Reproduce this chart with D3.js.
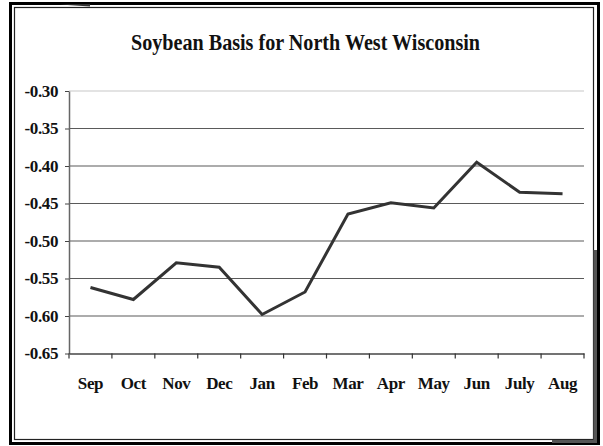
<!DOCTYPE html>
<html>
<head>
<meta charset="utf-8">
<script src="https://cdn.jsdelivr.net/npm/d3@7"></script>
<style>
  html, body { margin: 0; padding: 0; background: #fff; }
  svg { display: block; }
  .axis text { font-family: "Liberation Serif", "Times New Roman", serif; font-weight: bold; font-size: 17px; letter-spacing: -0.4px; fill: #111; }
</style>
</head>
<body>
<svg id="chart" width="603" height="446"></svg>
<script>
// ─── Data ────────────────────────────────────────────────────────────────
const months = ['Sep','Oct','Nov','Dec','Jan','Feb','Mar','Apr','May','Jun','July','Aug'];
const basis  = [-0.562,-0.578,-0.529,-0.535,-0.598,-0.568,-0.464,-0.449,-0.456,-0.395,-0.435,-0.437];
const yTicks = [-0.30,-0.35,-0.40,-0.45,-0.50,-0.55,-0.60,-0.65];
const title  = 'Soybean Basis for North West Wisconsin';

const svg = d3.select('#chart');
const W = 603, H = 446;
const margin = { top: 91, right: 19, bottom: 92.5, left: 69 };

svg.append('rect').attr('width', W).attr('height', H).attr('fill', '#fff');

// ── Frame (double border with a bit of shadow) ──────────────
svg.append('rect').attr('x', 10.5).attr('y', 3.5).attr('width', 588).attr('height', 440)
  .attr('fill', 'none').attr('stroke', '#000').attr('stroke-width', 3);
svg.append('rect').attr('x', 14.5).attr('y', 7.5).attr('width', 579).attr('height', 432)
  .attr('fill', 'none').attr('stroke', '#222').attr('stroke-width', 1.2);
svg.append('rect').attr('x', 593.5).attr('y', 250).attr('width', 3.5).attr('height', 193).attr('fill', '#555');
svg.append('rect').attr('x', 552).attr('y', 440).attr('width', 45).attr('height', 3).attr('fill', '#555');
svg.append('path').attr('d', 'M60,4.5 L90,6.5 L90,4 Z').attr('fill', '#333');

// ── Title ──────────────────────────────────────────────
svg.append('text')
  .attr('x', 131).attr('y', 50)
  .attr('textLength', 349).attr('lengthAdjust', 'spacingAndGlyphs')
  .style('font-family', '"Liberation Serif", "Times New Roman", serif')
  .style('font-weight', 'bold').style('font-size', '23px').attr('fill', '#111')
  .text(title);

// ── Scales ─────────────────────────────────────────────
const x = d3.scaleBand().domain(months).range([margin.left, W - margin.right]).padding(0);
const y = d3.scaleLinear().domain([-0.65, -0.30]).range([H - margin.bottom, margin.top]);

// Gridlines (top one is lighter)
svg.append('g').selectAll('line').data(yTicks.filter(v => v > -0.65)).join('line')
  .attr('x1', margin.left).attr('x2', W - margin.right)
  .attr('y1', d => y(d)).attr('y2', d => y(d))
  .attr('stroke', d => d === -0.30 ? '#c8c8c8' : '#5a5a5a')
  .attr('stroke-width', 1.2);

// Y axis
const yAxis = svg.append('g').attr('class', 'axis')
  .attr('transform', `translate(${margin.left},0)`)
  .call(d3.axisLeft(y).tickValues(yTicks).tickFormat(d => d.toFixed(2)).tickSize(4).tickPadding(7).tickSizeOuter(0));
yAxis.select('.domain').attr('stroke', '#666').attr('stroke-width', 1.5);
yAxis.selectAll('.tick line').attr('stroke', '#444');

// X axis: labels centred on categories, ticks on category boundaries
const xAxis = svg.append('g').attr('class', 'axis')
  .attr('transform', `translate(0,${y(-0.65)})`)
  .call(d3.axisBottom(x).tickSize(0).tickPadding(23).tickSizeOuter(0));
xAxis.select('.domain').attr('stroke', '#444').attr('stroke-width', 1.5);
const bounds = months.map(m => x(m)).concat([x.range()[1]]);
xAxis.selectAll('line.bound').data(bounds).join('line')
  .attr('class', 'bound')
  .attr('x1', d => d).attr('x2', d => d)
  .attr('y1', 0).attr('y2', 5)
  .attr('stroke', '#333').attr('stroke-width', 1.2);

// ── Line ───────────────────────────────────────────────
const line = d3.line()
  .x((_, i) => x(months[i]) + x.bandwidth() / 2)
  .y(d => y(d));
svg.append('path').datum(basis)
  .attr('d', line)
  .attr('fill', 'none')
  .attr('stroke', '#333')
  .attr('stroke-width', 3)
  .attr('stroke-linejoin', 'miter');
</script>
</body>
</html>
